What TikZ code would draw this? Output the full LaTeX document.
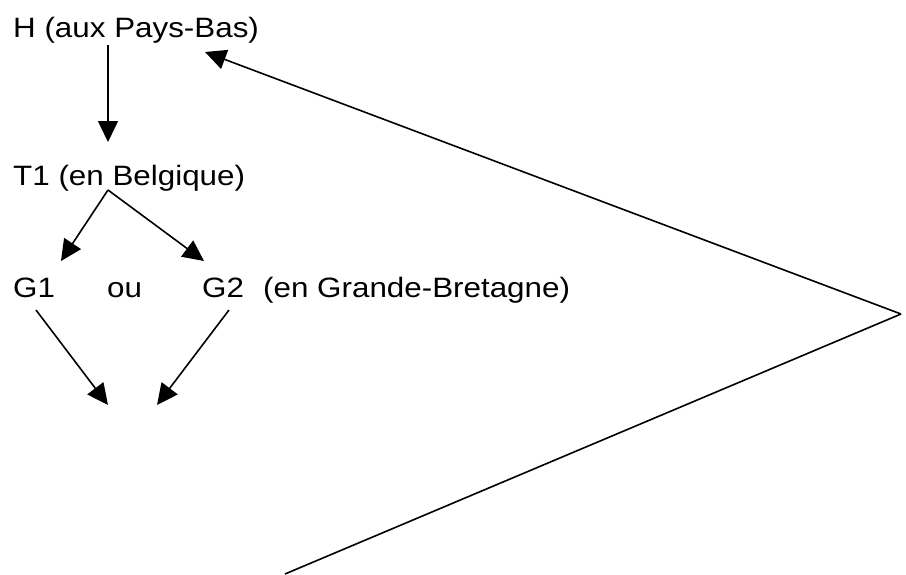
\documentclass[tikz,border=0pt]{standalone}
\usepackage{fontspec}
\setmainfont{Liberation Sans}
\usetikzlibrary{arrows.meta}
\begin{document}
\begin{tikzpicture}[x=1pt,y=-1pt,
  lbl/.style={anchor=base west,inner sep=0pt,xscale=1.12,font=\fontsize{28}{32}\selectfont},
  arr/.style={line width=1.6pt,-{Triangle[length=21pt,width=20pt]}},
  ln/.style={line width=1.6pt}]
\useasboundingbox[fill=white] (0,0) rectangle (906,574);
\node[lbl] (H)  at (13,37.5) {H (aux Pays-Bas)};
\node[lbl] (T1) at (13,185) {T1 (en Belgique)};
\node[lbl] (G1) at (13,297) {G1};
\node[lbl] (ou) at (107,297) {ou};
\node[lbl] (G2) at (202,297) {G2};
\node[lbl] (GB) at (263,297) {(en Grande-Bretagne)};
% connector end points
\coordinate (Hs)  at (108,45);
\coordinate (T1n) at (108,142);
\coordinate (T1s) at (108,190);
\coordinate (G1n) at (61,261);
\coordinate (G2n) at (204,261);
\coordinate (G1s) at (36,310);
\coordinate (G2s) at (229,310);
\coordinate (d1)  at (108,405);
\coordinate (d2)  at (157,405);
\coordinate (b0)  at (285,574);
\coordinate (b1)  at (901,314);
\coordinate (Ht)  at (205,52);
\draw[arr] (Hs) -- (T1n);
\draw[arr] (T1s) -- (G1n);
\draw[arr] (T1s) -- (G2n);
\draw[arr] (G1s) -- (d1);
\draw[arr] (G2s) -- (d2);
\draw[ln,line join=miter] (b0) -- (b1);
\draw[arr] (b1) -- (Ht);
\end{tikzpicture}
\end{document}
